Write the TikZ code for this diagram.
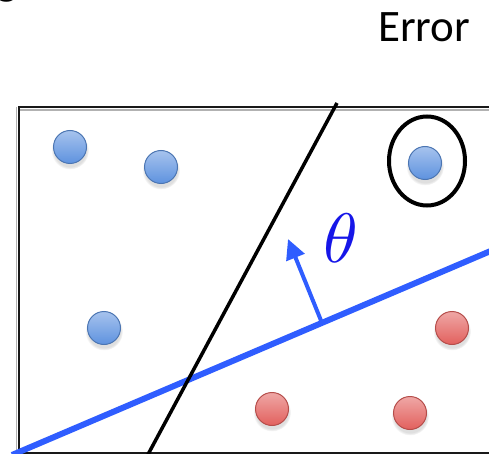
\documentclass[tikz,border=0pt]{standalone}
\usepackage{fontspec}
\setsansfont{Carlito}
\usepackage{tikz}
\usetikzlibrary{arrows.meta, shapes.geometric, shadows}
\definecolor{dotblue}{HTML}{5E92DF}
\definecolor{dotred}{HTML}{E2605D}
\definecolor{lineblue}{HTML}{2F5DFF}
\definecolor{thetablue}{HTML}{1616E8}

\begin{document}
\begin{tikzpicture}[
    x=1pt, y=-1pt,
    dot/.style={circle, draw=#1!80!black, top color=#1!55!white, bottom color=#1, line width=1pt, minimum size=33pt, inner sep=0pt,
      circular drop shadow={shadow xshift=0pt, shadow yshift=-3pt, shadow scale=1.15, opacity=0.25}},
    ring/.style={ellipse, draw=black, line width=4pt, minimum width=76pt, minimum height=89pt, inner sep=0pt},
    frame/.style={draw=black!90, line width=2.5pt},
    sep/.style={draw=lineblue, line width=6pt},
    cut/.style={draw=black, line width=3.5pt},
    normal/.style={draw=lineblue, line width=4pt, -{Triangle[length=20pt, width=19pt]}},
    theta/.style={text=thetablue, scale=7, inner sep=0pt},
    label/.style={font=\fontsize{45}{54}\selectfont\sffamily, anchor=base west, inner sep=0pt}
  ]
  \useasboundingbox (0,0) rectangle (489,454);

  % title text, partly outside the page
  \node[label] (frag) at (-4,-5) {g};
  \node[label] (err) at (378,42) {Error};

  % frame
  \draw[gray!60, line width=1.8pt] (16.5,107) -- (16.5,456);
  \draw[gray!60, line width=1.8pt] (19,109.8) -- (495,109.8);
  \draw[frame] (19,107) rectangle (530,453);

  % separating lines
  \coordinate (sepA) at (12,455);
  \coordinate (sepB) at (500,247);
  \draw[sep] (sepA) -- (sepB);
  \coordinate (cutA) at (337,103);
  \coordinate (cutB) at (145,460);
  \draw[cut] (cutA) -- (cutB);

  % normal vector
  \coordinate (foot) at (322,323);
  \coordinate (tip) at (288,239);
  \draw[normal] (foot) -- (tip);
  \node[theta] (th) at (341,238) {$\theta$};

  % data points
  \node[dot=dotblue] (b1) at (70,147) {};
  \node[dot=dotblue] (b2) at (161,167) {};
  \node[dot=dotblue] (b3) at (104,328) {};
  \node[dot=dotblue] (b4) at (425,163) {};
  \node[dot=dotred] (r1) at (452,328) {};
  \node[dot=dotred] (r2) at (272,409) {};
  \node[dot=dotred] (r3) at (410,413) {};

  % misclassified point
  \node[ring] (odd) at (427,161) {};
\end{tikzpicture}
\end{document}
